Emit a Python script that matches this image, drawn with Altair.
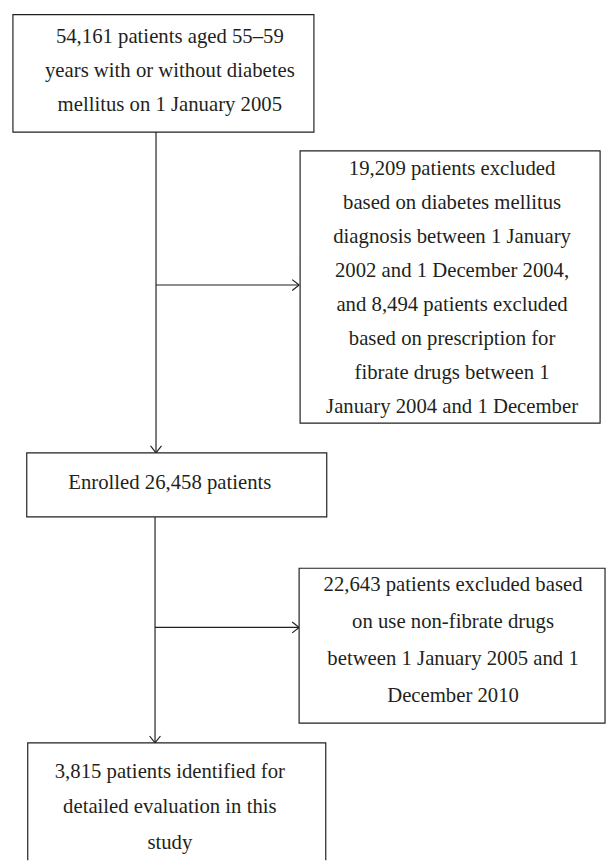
import altair as alt
import pandas as pd

# ---- content ----
box_texts = [
    ["54,161 patients aged 55\u201359", "years with or without diabetes", "mellitus on 1 January 2005"],
    ["19,209 patients excluded", "based on diabetes mellitus", "diagnosis between 1 January",
     "2002 and 1 December 2004,", "and 8,494 patients excluded", "based on prescription for",
     "fibrate drugs between 1", "January 2004 and 1 December"],
    ["Enrolled 26,458 patients"],
    ["22,643 patients excluded based", "on use non-fibrate drugs",
     "between 1 January 2005 and 1", "December 2010"],
    ["3,815 patients identified for", "detailed evaluation in this", "study"],
]

# ---- layout (page pixel coordinates) ----
box_left = [13, 304, 27, 303, 28]
box_right = [318, 608, 331, 613, 330]
box_top = [9, 147, 453, 570, 747]
box_bottom = [128, 423, 518, 727, 900]
text_cx = [172, 458, 172, 459, 172]
text_first = [32, 165, 484, 587, 777]
text_step = [34.5, 34.5, 0, 37.5, 35.5]

# connector segments (x, y, x2, y2)
seg_x = [158, 158, 157, 157]
seg_y = [128, 283, 518, 630]
seg_x2 = [158, 303, 157, 303]
seg_y2 = [453, 283, 747, 630]

# arrow tips and direction
tip_x = [158, 303, 157, 303]
tip_y = [453, 283, 747, 630]
tip_dir = ["down", "right", "down", "right"]

INK = "#231f20"
FONT = "Liberation Serif"

boxes = pd.DataFrame({"x": box_left, "x2": box_right, "y": box_top, "y2": box_bottom})

rows = []
for i, lines in enumerate(box_texts):
    for j, t in enumerate(lines):
        rows.append({"x": text_cx[i], "y": text_first[i] + j * text_step[i], "t": t})
texts = pd.DataFrame(rows)

segs = []
for a, b, c, d in zip(seg_x, seg_y, seg_x2, seg_y2):
    segs.append({"x": a, "y": b, "x2": c, "y2": d})
back, half = 7, 5.5
for tx, ty, dr in zip(tip_x, tip_y, tip_dir):
    if dr == "down":
        segs.append({"x": tx - half, "y": ty - back, "x2": tx, "y2": ty})
        segs.append({"x": tx + half, "y": ty - back, "x2": tx, "y2": ty})
    else:
        segs.append({"x": tx - back, "y": ty - half, "x2": tx, "y2": ty})
        segs.append({"x": tx - back, "y": ty + half, "x2": tx, "y2": ty})
lines_df = pd.DataFrame(segs)

W, H = 607, 858
xs = alt.Scale(domain=[8, 615], nice=False, zero=False)
ys = alt.Scale(domain=[8, 866], nice=False, zero=False, reverse=True)

rect = alt.Chart(boxes).mark_rect(fill="white", stroke=INK, strokeWidth=1.2, clip=True).encode(
    x=alt.X("x:Q", scale=xs, axis=None), x2="x2:Q",
    y=alt.Y("y:Q", scale=ys, axis=None), y2="y2:Q",
)

rules = alt.Chart(lines_df).mark_rule(color=INK, strokeWidth=1.2).encode(
    x=alt.X("x:Q", scale=xs, axis=None), x2="x2:Q",
    y=alt.Y("y:Q", scale=ys, axis=None), y2="y2:Q",
)

txt = alt.Chart(texts).mark_text(font=FONT, fontSize=21, color=INK, align="center",
                                 baseline="middle").encode(
    x=alt.X("x:Q", scale=xs, axis=None),
    y=alt.Y("y:Q", scale=ys, axis=None),
    text="t:N",
)

chart = alt.layer(rules, rect, txt).properties(
    width=W, height=H, padding=0, autosize=alt.AutoSizeParams(type="none"),
    background="white",
).configure_view(stroke=None)

chart.save("out.html", embed_options={"renderer": "svg", "actions": False})
